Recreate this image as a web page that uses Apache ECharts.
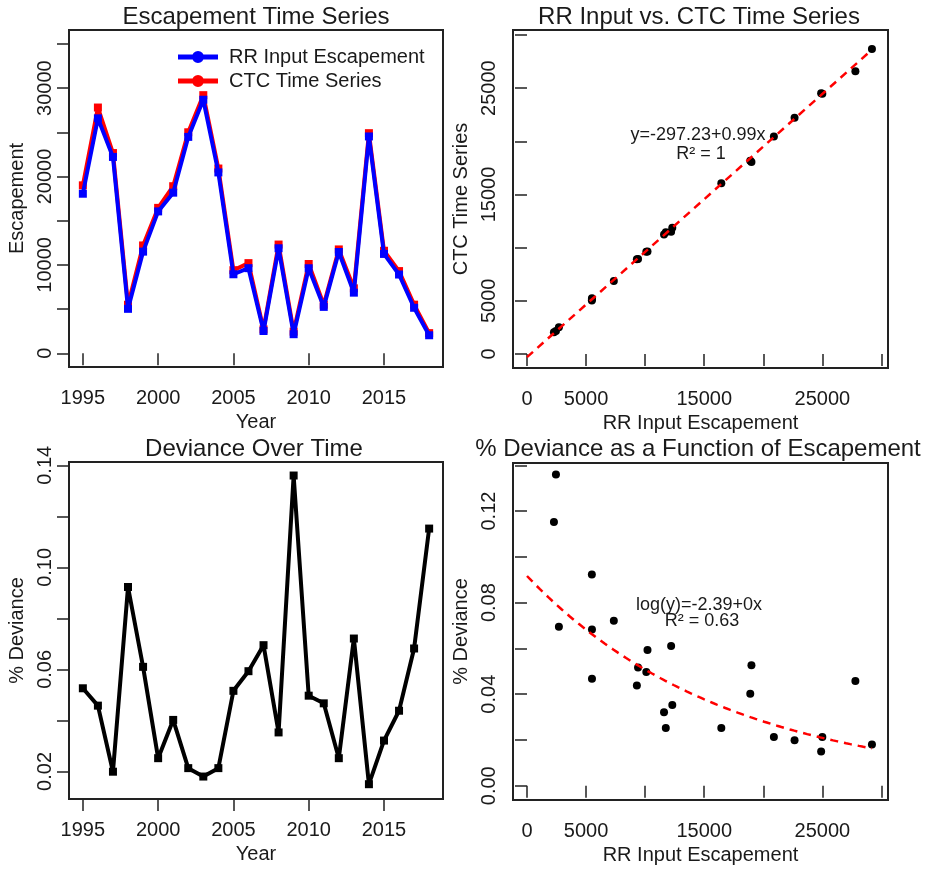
<!DOCTYPE html>
<html><head><meta charset="utf-8">
<script src="https://cdn.jsdelivr.net/npm/echarts@6/dist/echarts.min.js"></script>
<style>html,body{margin:0;padding:0;background:#fff}#c{width:931px;height:869px}</style>
</head><body><div id="c"></div>
<script>
// ---- data ----
const years = [1995,1996,1997,1998,1999,2000,2001,2002,2003,2004,2005,2006,2007,2008,2009,2010,2011,2012,2013,2014,2015,2016,2017,2018];
// blue line in the time series ("RR Input Escapement")
const rrInputEscapement = [18050,26580,22210,5030,11500,16050,18170,24480,28680,20460,8940,9630,2520,11880,2160,9620,5250,11460,6860,24530,11240,8910,5150,2040];
// red line in the time series ("CTC Time Series")
const ctcTimeSeries = [19000,27800,22650,5490,12200,16450,18900,25000,29200,20900,9400,10200,2700,12300,2450,10100,5500,11750,7350,24900,11600,9300,5500,2280];
// % deviance per year
const pctDeviance = [0.0526,0.0458,0.0199,0.0923,0.0610,0.0252,0.0402,0.0213,0.0180,0.0213,0.0516,0.0593,0.0695,0.0353,0.1360,0.0497,0.0467,0.0252,0.0721,0.0150,0.0321,0.0438,0.0682,0.1152];

const yearTicks = [1995,2000,2005,2010,2015];
const escTicks = [0,5000,10000,15000,20000,25000,30000,35000];
const escLabels = [0,10000,20000,30000];
const xyTicks = [0,5000,10000,15000,20000,25000,30000];
const xyLabels = [0,5000,15000,25000];
const devTicksL = [0.02,0.04,0.06,0.08,0.10,0.12,0.14];
const devLabelsL = [0.02,0.06,0.10,0.14];
const devTicksR = [0,0.02,0.04,0.06,0.08,0.10,0.12,0.14];
const devLabelsR = [0,0.04,0.08,0.12];
const lmCoef = [-297.23, 0.99];          // y = a + b x
const expCoef = [-2.39, -0.0000591];     // log(y) = a + b x

// ---- chart ----
const FONT = '"Liberation Sans", Arial, sans-serif';
const INK = '#1a1a1a';

function xAx(g, min, max, ticks, labels, name, fmt) {
  return {
    type: 'value', gridIndex: g, min: min, max: max,
    axisLine: {show: false},
    axisTick: {show: true, inside: false, length: 12, customValues: ticks, lineStyle: {color: '#222', width: 1.5}},
    axisLabel: {customValues: labels, fontSize: 20, color: INK, fontFamily: FONT, margin: 21,
      formatter: fmt || (v => String(v))},
    splitLine: {show: false},
    name: name, nameLocation: 'middle', nameGap: 45,
    nameTextStyle: {fontSize: 20, color: INK, fontFamily: FONT}
  };
}
function yAx(g, min, max, ticks, labels, name, fmt) {
  return {
    type: 'value', gridIndex: g, min: min, max: max,
    axisLine: {show: false},
    axisTick: {show: true, inside: false, length: 12, customValues: ticks, lineStyle: {color: '#222', width: 1.5}},
    axisLabel: {customValues: labels, fontSize: 20, color: INK, fontFamily: FONT, margin: 14, rotate: 90,
      formatter: fmt || (v => String(v))},
    splitLine: {show: false},
    name: name, nameLocation: 'middle', nameGap: 42,
    nameTextStyle: {fontSize: 20, color: INK, fontFamily: FONT}
  };
}
const f2 = v => v.toFixed(2);

const gridBase = {show: true, borderColor: '#222', borderWidth: 2, backgroundColor: 'transparent', containLabel: false};

const tsRed = years.map((y, i) => [y, ctcTimeSeries[i]]);
const tsBlue = years.map((y, i) => [y, rrInputEscapement[i]]);
const xyPts = years.map((y, i) => [ctcTimeSeries[i], rrInputEscapement[i]]);
const devTs = years.map((y, i) => [y, pctDeviance[i]]);
const devXY = years.map((y, i) => [ctcTimeSeries[i], pctDeviance[i]]);
const xMaxData = Math.max(...ctcTimeSeries);
const lmLine = [[0, lmCoef[0]], [xMaxData, lmCoef[0] + lmCoef[1] * xMaxData]];
const expLine = [];
for (let k = 0; k <= 80; k++) {
  const x = xMaxData * k / 80;
  expLine.push([x, Math.exp(expCoef[0] + expCoef[1] * x)]);
}

const legendIcon = 'path://M0,3.5 h40 v5 h-40 Z M14,6 a6,6 0 1,1 12,0 a6,6 0 1,1 -12,0 Z';

const option = {
  animation: false,
  backgroundColor: '#fff',
  textStyle: {fontFamily: FONT},
  title: [
    {text: 'Escapement Time Series', left: 256, top: 5, textAlign: 'center', padding: 0,
      textStyle: {fontSize: 24, fontWeight: 'normal', color: INK, fontFamily: FONT}},
    {text: 'RR Input vs. CTC Time Series', left: 699, top: 5, textAlign: 'center', padding: 0,
      textStyle: {fontSize: 24, fontWeight: 'normal', color: INK, fontFamily: FONT}},
    {text: 'Deviance Over Time', left: 254, top: 437, textAlign: 'center', padding: 0,
      textStyle: {fontSize: 24, fontWeight: 'normal', color: INK, fontFamily: FONT}},
    {text: '% Deviance as a Function of Escapement', left: 698, top: 437, textAlign: 'center', padding: 0,
      textStyle: {fontSize: 24, fontWeight: 'normal', color: INK, fontFamily: FONT}}
  ],
  legend: {
    orient: 'vertical', left: 173, top: 42, itemWidth: 40, itemHeight: 12, itemGap: 4,
    data: [
      {name: 'RR Input Escapement', icon: legendIcon},
      {name: 'CTC Time Series', icon: legendIcon}
    ],
    textStyle: {fontSize: 20, color: INK, fontFamily: FONT, padding: [0, 0, 0, 6], lineHeight: 20},
    selectedMode: false
  },
  grid: [
    Object.assign({left: 69, top: 30, width: 374, height: 337}, gridBase),
    Object.assign({left: 513, top: 30, width: 375, height: 338}, gridBase),
    Object.assign({left: 69, top: 462, width: 374, height: 337}, gridBase),
    Object.assign({left: 513, top: 463, width: 375, height: 337}, gridBase)
  ],
  xAxis: [
    xAx(0, 1994.08, 2018.92, yearTicks, yearTicks, 'Year'),
    xAx(1, -1185, 30560, xyTicks, xyLabels, 'RR Input Escapement'),
    xAx(2, 1994.08, 2018.92, yearTicks, yearTicks, 'Year'),
    xAx(3, -1185, 30560, xyTicks, xyLabels, 'RR Input Escapement')
  ],
  yAxis: [
    yAx(0, -1550, 36570, escTicks, escLabels, 'Escapement'),
    yAx(1, -1317, 30469, xyTicks, xyLabels, 'CTC Time Series'),
    yAx(2, 0.0092, 0.1413, devTicksL, devLabelsL, '% Deviance', f2),
    yAx(3, -0.00624, 0.141, devTicksR, devLabelsR, '% Deviance', f2)
  ],
  series: [
    {name: 'CTC Time Series', type: 'line', xAxisIndex: 0, yAxisIndex: 0, data: tsRed,
      symbol: 'rect', symbolSize: 8, showAllSymbol: true, color: '#ff0000',
      lineStyle: {width: 4, color: '#ff0000'}, itemStyle: {color: '#ff0000'}, z: 2},
    {name: 'RR Input Escapement', type: 'line', xAxisIndex: 0, yAxisIndex: 0, data: tsBlue,
      symbol: 'rect', symbolSize: 8, showAllSymbol: true, color: '#0000ff',
      lineStyle: {width: 4, color: '#0000ff'}, itemStyle: {color: '#0000ff'}, z: 3},
    {name: 'xy', type: 'scatter', xAxisIndex: 1, yAxisIndex: 1, data: xyPts,
      symbol: 'circle', symbolSize: 8, itemStyle: {color: '#000', opacity: 1}, z: 3},
    {name: 'lm', type: 'line', xAxisIndex: 1, yAxisIndex: 1, data: lmLine, symbol: 'none',
      lineStyle: {color: '#ff0000', width: 2.5, type: [8, 6]}, z: 4},
    {name: 'dev', type: 'line', xAxisIndex: 2, yAxisIndex: 2, data: devTs,
      symbol: 'rect', symbolSize: 8, showAllSymbol: true, color: '#000',
      lineStyle: {width: 4, color: '#000'}, itemStyle: {color: '#000'}, z: 3},
    {name: 'devxy', type: 'scatter', xAxisIndex: 3, yAxisIndex: 3, data: devXY,
      symbol: 'circle', symbolSize: 8, itemStyle: {color: '#000', opacity: 1}, z: 3},
    {name: 'expfit', type: 'line', xAxisIndex: 3, yAxisIndex: 3, data: expLine, symbol: 'none',
      lineStyle: {color: '#ff0000', width: 2.5, type: [8, 6]}, z: 4}
  ],
  graphic: [
    {type: 'text', x: 698, y: 135, z: 10, style: {text: 'y=-297.23+0.99x', fontSize: 18, fontFamily: FONT, fill: INK, align: 'center', verticalAlign: 'middle'}},
    {type: 'text', x: 701, y: 154, z: 10, style: {text: 'R² = 1', fontSize: 18, fontFamily: FONT, fill: INK, align: 'center', verticalAlign: 'middle'}},
    {type: 'text', x: 699, y: 605, z: 10, style: {text: 'log(y)=-2.39+0x', fontSize: 18, fontFamily: FONT, fill: INK, align: 'center', verticalAlign: 'middle'}},
    {type: 'text', x: 702, y: 621, z: 10, style: {text: 'R² = 0.63', fontSize: 18, fontFamily: FONT, fill: INK, align: 'center', verticalAlign: 'middle'}}
  ]
};

const chart = echarts.init(document.getElementById('c'), null, {renderer: 'canvas'});
chart.setOption(option);
</script>
</body></html>
